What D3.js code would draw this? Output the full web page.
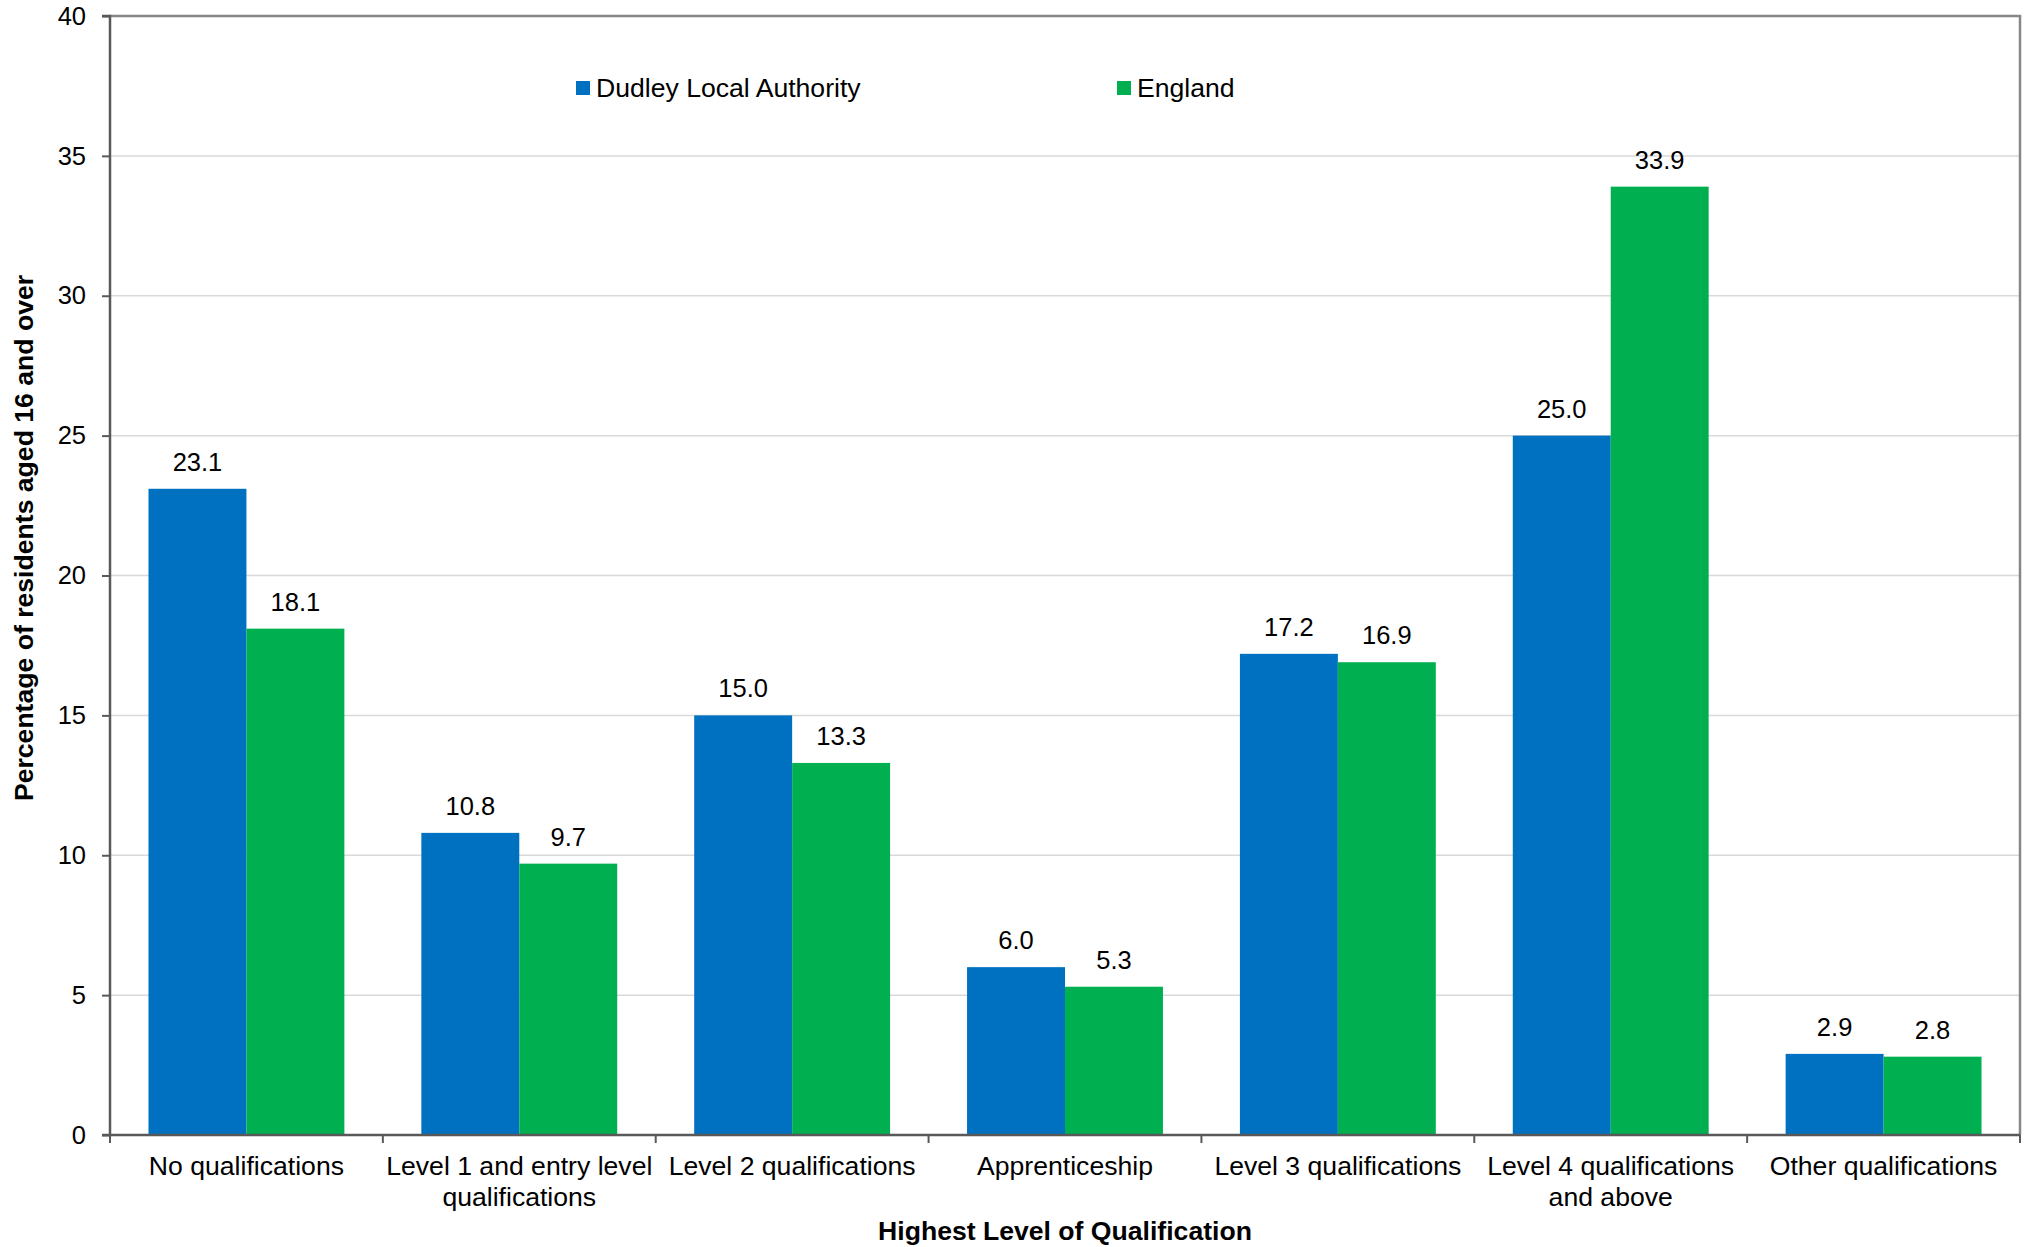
<!DOCTYPE html>
<html>
<head>
<meta charset="utf-8">
<script src="https://cdn.jsdelivr.net/npm/d3@7"></script>
<style>
  html, body { margin: 0; padding: 0; background: #fff; }
  svg text { font-family: "Liberation Sans", Arial, sans-serif; fill: #000; }
</style>
</head>
<body>
<svg id="chart" width="2028" height="1247"></svg>
<script>
const categories = [
  "No qualifications",
  "Level 1 and entry level qualifications",
  "Level 2 qualifications",
  "Apprenticeship",
  "Level 3 qualifications",
  "Level 4 qualifications and above",
  "Other qualifications"
];
const seriesNames = ["Dudley Local Authority", "England"];
const dudleyValues = [23.1, 10.8, 15.0, 6.0, 17.2, 25.0, 2.9];
const englandValues = [18.1, 9.7, 13.3, 5.3, 16.9, 33.9, 2.8];
const yTicks = [0, 5, 10, 15, 20, 25, 30, 35, 40];
const colors = ["#0070C0", "#00B050"];

(function () {
const svg = d3.select("#chart");
const pLeft = 110, pRight = 2020, pTop = 16, pBottom = 1135;

const x = d3.scaleBand().domain(categories).range([pLeft, pRight]).paddingInner(0).paddingOuter(0);
const xs = d3.scaleBand().domain(seriesNames).range([0, x.bandwidth()]).paddingInner(0).paddingOuter(0.393);
const y = d3.scaleLinear().domain([0, 40]).range([pBottom, pTop]);

// gridlines
svg.append("g").selectAll("line").data(yTicks.filter(t => t > 0 && t < 40)).join("line")
  .attr("x1", pLeft).attr("x2", pRight)
  .attr("y1", d => y(d)).attr("y2", d => y(d))
  .attr("stroke", "#d9d9d9").attr("stroke-width", 1.5);

// top & right border
svg.append("path")
  .attr("d", `M${pLeft},${y(40)}H${pRight}V${pBottom}`)
  .attr("fill", "none").attr("stroke", "#878787").attr("stroke-width", 2.5);

// bars
const data = categories.map((c, i) => ({ cat: c, vals: [dudleyValues[i], englandValues[i]] }));
const groups = svg.append("g").selectAll("g").data(data).join("g")
  .attr("transform", d => `translate(${x(d.cat)},0)`);
groups.selectAll("rect").data(d => d.vals.map((v, j) => ({ s: seriesNames[j], v, j }))).join("rect")
  .attr("x", d => xs(d.s))
  .attr("width", xs.bandwidth())
  .attr("y", d => y(d.v))
  .attr("height", d => y(0) - y(d.v))
  .attr("fill", d => colors[d.j]);
groups.selectAll("text.val").data(d => d.vals.map((v, j) => ({ s: seriesNames[j], v, j }))).join("text")
  .attr("class", "val")
  .attr("x", d => xs(d.s) + xs.bandwidth() / 2)
  .attr("y", d => y(d.v) - 18)
  .attr("text-anchor", "middle")
  .style("font-size", "25.5px")
  .text(d => d.v.toFixed(1));

// y axis
const yAxis = d3.axisLeft(y).tickValues(yTicks).tickSize(8).tickPadding(16).tickFormat(d3.format("d"));
const gy = svg.append("g").attr("transform", `translate(${pLeft},0)`).call(yAxis);
gy.select(".domain").attr("stroke", "#595959").attr("stroke-width", 2.5).attr("d", `M-8,${y(40)}H0V${pBottom}H-8`);
gy.selectAll(".tick line").attr("stroke", "#595959").attr("stroke-width", 2);
gy.selectAll(".tick text").style("font-size", "25.5px").style("font-family", "'Liberation Sans', Arial, sans-serif").attr("fill", "#000");

// x axis
const gx = svg.append("g").attr("transform", `translate(0,${pBottom})`);
gx.append("line").attr("x1", pLeft).attr("x2", pRight).attr("y1", 0).attr("y2", 0)
  .attr("stroke", "#595959").attr("stroke-width", 2.5);
const boundaries = categories.map(c => x(c)).concat([x(categories[categories.length - 1]) + x.bandwidth()]);
gx.selectAll("line.tk").data(boundaries).join("line").attr("class", "tk")
  .attr("x1", d => d).attr("x2", d => d).attr("y1", 0).attr("y2", 8)
  .attr("stroke", "#595959").attr("stroke-width", 2);

// category labels with wrapping
const maxW = 272;
categories.forEach(c => {
  const cx = x(c) + x.bandwidth() / 2;
  const t = gx.append("text")
    .attr("x", cx)
    .attr("y", 40)
    .attr("text-anchor", "middle")
    .style("font-size", "26.6px");
  const words = c.split(" ");
  let line = [];
  let tspan = t.append("tspan").attr("x", cx).attr("dy", 0);
  words.forEach(w => {
    line.push(w);
    tspan.text(line.join(" "));
    if (tspan.node().getComputedTextLength() > maxW && line.length > 1) {
      line.pop();
      tspan.text(line.join(" "));
      line = [w];
      tspan = t.append("tspan").attr("x", cx).attr("dy", 31).text(w);
    }
  });
});

// axis titles
svg.append("text")
  .attr("x", (pLeft + pRight) / 2).attr("y", 1240)
  .attr("text-anchor", "middle")
  .style("font-size", "26.6px").style("font-weight", "bold")
  .text("Highest Level of Qualification");
svg.append("text")
  .attr("transform", "translate(33,538) rotate(-90)")
  .attr("text-anchor", "middle")
  .style("font-size", "26.6px").style("font-weight", "bold")
  .text("Percentage of residents aged 16 and over");

// legend
const legendX = [576, 1117];
const lg = svg.append("g").selectAll("g").data(seriesNames).join("g")
  .attr("transform", (d, i) => `translate(${legendX[i]},81)`);
lg.append("rect").attr("width", 14).attr("height", 14).attr("fill", (d, i) => colors[i]);
lg.append("text").attr("x", 20).attr("y", 16).style("font-size", "26.6px").text(d => d);
})();
</script>
</body>
</html>
